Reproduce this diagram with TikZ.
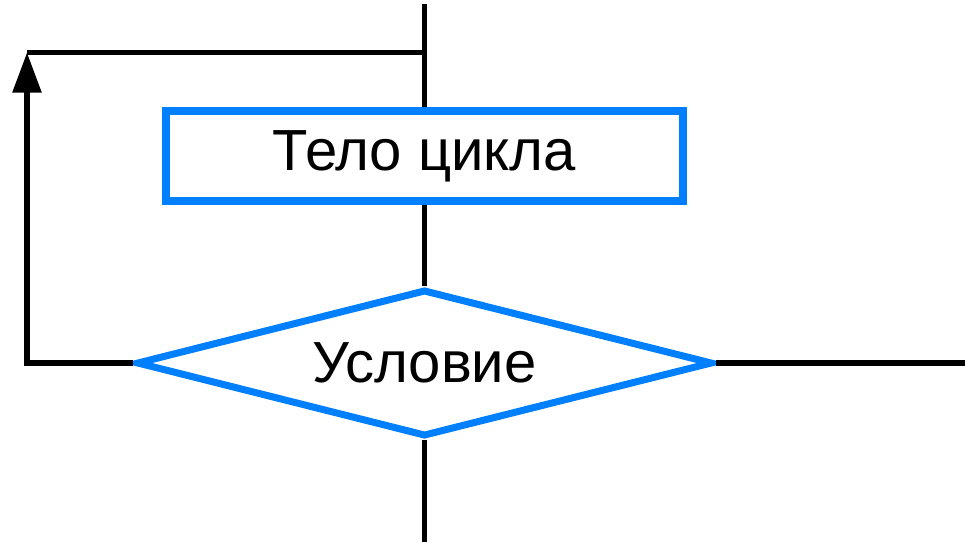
\documentclass[tikz,border=0pt]{standalone}
\usepackage{fontspec}
\setmainfont{Liberation Sans}
\usetikzlibrary{shapes.geometric, arrows.meta}

\definecolor{loopblue}{RGB}{0,128,255}

\tikzset{
    flowline/.style={black, line width=5.5pt},
    bodybox/.style={draw=loopblue, line width=7.5pt, rectangle, inner sep=0pt,
        minimum width=517pt, minimum height=90pt},
    condbox/.style={draw=loopblue, line width=7pt, diamond, aspect=3.9, inner sep=0pt,
        minimum width=576pt, minimum height=147pt},
}

\begin{document}
\begin{tikzpicture}[x=1pt, y=-1pt, font=\fontsize{58}{70}\selectfont]
        \useasboundingbox (0, 0) rectangle (965, 542);

        % Draw blocks
        \node[bodybox] (body) at (424.5, 156) {Тело цикла};
        \node[condbox] (cond) at (424.5, 363) {Условие};

        % Free ends
        \coordinate (top) at (424.5, 4);
        \coordinate (bottom) at (424.5, 542);
        \coordinate (exit) at (965, 363);
        \coordinate (corner) at (27, 52.5);

        % Draw lines
        \draw[flowline] (top) -- (body.north);
        \draw[flowline] (body.south) -- (cond.north);
        \draw[flowline] (cond.south) -- (bottom);
        \draw[flowline] (cond.east) -- (exit);

        % Loop back
        \draw[flowline, -{Triangle[length=40pt, width=28pt]}] (cond.west) -| (corner);
        \draw[flowline] (corner) -- (corner -| top);
    \end{tikzpicture}
\end{document}
